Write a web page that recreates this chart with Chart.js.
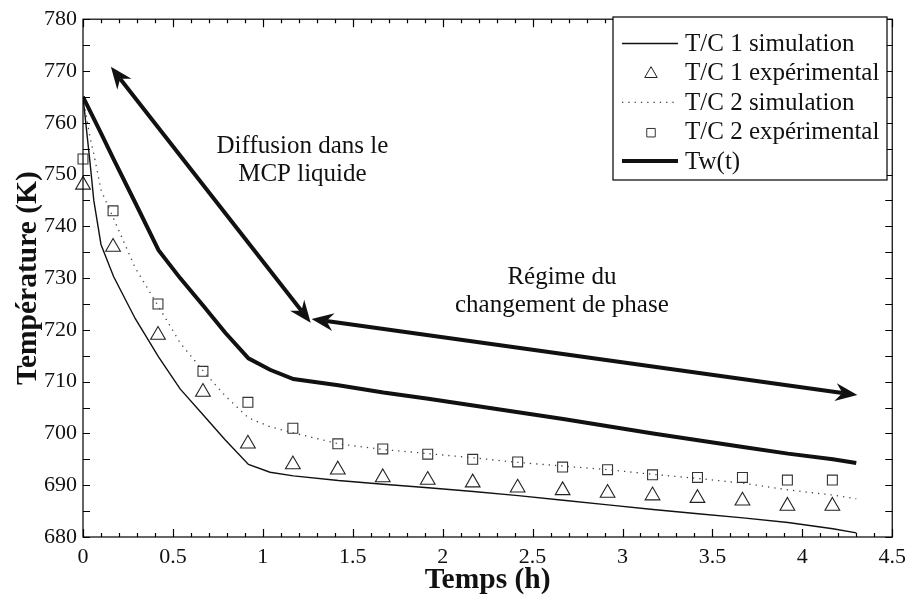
<!DOCTYPE html>
<html>
<head>
<meta charset="utf-8">
<title>Température</title>
<script src="https://cdn.jsdelivr.net/npm/chart.js@4.4.0/dist/chart.umd.min.js"></script>
<style>
  html, body { margin: 0; padding: 0; background: #fff; }
</style>
</head>
<body>
<canvas id="chart0" width="913" height="596"></canvas>
<script>
// simulated curves, time in hours
const tSim = [0, 0.04, 0.06, 0.1, 0.17, 0.29, 0.42, 0.54, 0.67, 0.79, 0.92, 1.04, 1.17, 1.42, 1.67, 1.92, 2.17, 2.42, 2.67, 2.92, 3.17, 3.42, 3.67, 3.92, 4.17, 4.3];
const tc1Sim = [765, 752, 745, 736.5, 730.3, 722.2, 714.8, 708.6, 703.5, 698.8, 694.0, 692.5, 691.8, 690.9, 690.2, 689.5, 688.8, 688.0, 687.1, 686.2, 685.3, 684.5, 683.7, 682.8, 681.6, 680.8];
const tc2Sim = [765, 757, 754, 747, 741.5, 732, 724.5, 717.5, 712, 707.3, 703.0, 701.3, 700.1, 698.0, 696.9, 696.1, 695.3, 694.4, 693.7, 693.0, 692.1, 691.3, 690.4, 689.1, 688.1, 687.4];
const twSim = [765, 762.2, 760.8, 758, 753, 744.6, 735.4, 730, 724.6, 719.5, 714.5, 712.3, 710.5, 709.3, 707.9, 706.7, 705.4, 704.1, 702.8, 701.4, 700.0, 698.7, 697.4, 696.1, 695.0, 694.3];

// thermocouple measurements
const tExp = [0, 0.167, 0.417, 0.667, 0.917, 1.167, 1.417, 1.667, 1.917, 2.167, 2.417, 2.667, 2.917, 3.167, 3.417, 3.667, 3.917, 4.167];
const tc1Exp = [748, 736, 719, 708, 698, 694, 693, 691.5, 691, 690.5, 689.5, 689, 688.5, 688, 687.5, 687, 686, 686];
const tc2Exp = [753, 743, 725, 712, 706, 701, 698, 697, 696, 695, 694.5, 693.5, 693, 692, 691.5, 691.5, 691, 691];

const seriesNames = ["T/C 1 simulation", "T/C 1 expérimental", "T/C 2 simulation", "T/C 2 expérimental", "Tw(t)"];
const xTicks = [0, 0.5, 1, 1.5, 2, 2.5, 3, 3.5, 4, 4.5];
const yTicks = [680, 690, 700, 710, 720, 730, 740, 750, 760, 770, 780];

// double arrows [t1, T1, t2, T2] and the notes beside them [t, T, text]
const arrows = [[0.155, 770.8, 1.266, 721.4], [1.271, 722.1, 4.306, 707.4]];
const notes = [
  [1.22, 754.1, "Diffusion dans le"],
  [1.22, 748.8, "MCP liquide"],
  [2.663, 728.9, "Régime du"],
  [2.663, 723.5, "changement de phase"]
];

const serif = '"Liberation Serif", "Times New Roman", serif';

function pts(xs, ys) {
  return xs.map((x, i) => ({x: x, y: ys[i]}));
}

// filled arrow head, tip at (x, y), pointing along angle a
function arrowHead(ctx, x, y, a) {
  const L = 22, W = 9, N = 15;
  const c = Math.cos(a), s = Math.sin(a);
  ctx.beginPath();
  ctx.moveTo(x, y);
  ctx.lineTo(x - L * c - W * s, y - L * s + W * c);
  ctx.lineTo(x - N * c, y - N * s);
  ctx.lineTo(x - L * c + W * s, y - L * s - W * c);
  ctx.closePath();
  ctx.fill();
}

const notesPlugin = {
  id: 'notes',
  afterDatasetsDraw(chart) {
    const {ctx, scales: {x, y}} = chart;
    ctx.save();
    ctx.strokeStyle = '#111';
    ctx.fillStyle = '#111';
    ctx.lineWidth = 4;
    arrows.forEach(r => {
      const x1 = x.getPixelForValue(r[0]), y1 = y.getPixelForValue(r[1]);
      const x2 = x.getPixelForValue(r[2]), y2 = y.getPixelForValue(r[3]);
      const a = Math.atan2(y2 - y1, x2 - x1);
      const c = Math.cos(a) * 15, s = Math.sin(a) * 15;
      ctx.beginPath();
      ctx.moveTo(x1 + c, y1 + s);
      ctx.lineTo(x2 - c, y2 - s);
      ctx.stroke();
      arrowHead(ctx, x2, y2, a);
      arrowHead(ctx, x1, y1, a + Math.PI);
    });
    ctx.font = '25px ' + serif;
    ctx.textAlign = 'center';
    ctx.textBaseline = 'alphabetic';
    notes.forEach(n => {
      ctx.fillText(n[2], x.getPixelForValue(n[0]), y.getPixelForValue(n[1]));
    });
    ctx.restore();
  }
};

// box round the plot, inward ticks on all four sides, axis titles
const framePlugin = {
  id: 'frame',
  afterDatasetsDraw(chart) {
    const {ctx, chartArea: a, scales: {x, y}} = chart;
    ctx.save();
    ctx.strokeStyle = '#000';
    ctx.lineWidth = 1.2;
    ctx.beginPath();
    for (let i = 0; i <= 45; i++) {
      const px = Math.round(x.getPixelForValue(i / 10)) + 0.5;
      const len = i % 5 === 0 ? 8 : 4;
      ctx.moveTo(px, a.bottom); ctx.lineTo(px, a.bottom - len);
      ctx.moveTo(px, a.top); ctx.lineTo(px, a.top + len);
    }
    for (let v = 680; v <= 780; v += 5) {
      const py = Math.round(y.getPixelForValue(v)) + 0.5;
      ctx.moveTo(a.left, py); ctx.lineTo(a.left + 7, py);
      ctx.moveTo(a.right, py); ctx.lineTo(a.right - 7, py);
    }
    ctx.stroke();
    ctx.strokeRect(a.left, a.top, a.right - a.left, a.bottom - a.top);

    ctx.fillStyle = '#111';
    ctx.font = 'bold 29.5px ' + serif;
    ctx.textAlign = 'center';
    ctx.textBaseline = 'alphabetic';
    ctx.fillText("Temps (h)", (a.left + a.right) / 2, 588);
    ctx.translate(36, (a.top + a.bottom) / 2);
    ctx.rotate(-Math.PI / 2);
    ctx.fillText("Température (K)", 0, 0);
    ctx.restore();
  }
};

const legendPlugin = {
  id: 'boxLegend',
  afterDraw(chart) {
    const ctx = chart.ctx;
    const left = 613, top = 17, right = 887, bottom = 180;
    ctx.save();
    ctx.fillStyle = '#fff';
    ctx.fillRect(left, top, right - left, bottom - top);
    ctx.strokeStyle = '#000';
    ctx.lineWidth = 1.2;
    ctx.strokeRect(left, top, right - left, bottom - top);
    ctx.font = '25px ' + serif;
    ctx.textBaseline = 'middle';
    ctx.textAlign = 'left';
    chart.data.datasets.forEach((ds, i) => {
      const ry = 43.5 + i * 29.4;
      ctx.strokeStyle = ds.borderColor;
      if (ds.showLine === false) {
        ctx.fillStyle = 'rgba(0,0,0,0)';
        ctx.lineWidth = 1;
        Chart.helpers.drawPoint(ctx, {pointStyle: ds.pointStyle, radius: ds.pointStyle === 'triangle' ? 7.2 : 6, borderWidth: 1}, 651, ry + 1);
      } else {
        ctx.lineWidth = ds.borderWidth;
        ctx.setLineDash(ds.borderDash || []);
        ctx.beginPath();
        ctx.moveTo(622, ry);
        ctx.lineTo(678, ry);
        ctx.stroke();
        ctx.setLineDash([]);
      }
      ctx.fillStyle = '#111';
      ctx.fillText(ds.label, 685, ry + 1);
    });
    ctx.restore();
  }
};

const datasets = [
  {label: seriesNames[0], data: pts(tSim, tc1Sim), borderColor: '#111', borderWidth: 1.4, pointRadius: 0},
  {label: seriesNames[1], data: pts(tExp, tc1Exp), showLine: false, pointStyle: 'triangle', pointRadius: 8.5,
   borderColor: '#222', backgroundColor: 'rgba(0,0,0,0)', pointBorderWidth: 1.1, clip: false},
  {label: seriesNames[2], data: pts(tSim, tc2Sim), borderColor: '#444', borderWidth: 1.3, borderDash: [1.3, 5], pointRadius: 0},
  {label: seriesNames[3], data: pts(tExp, tc2Exp), showLine: false, pointStyle: 'rect', pointRadius: 7,
   borderColor: '#333', backgroundColor: 'rgba(0,0,0,0)', pointBorderWidth: 1.1, clip: false},
  {label: seriesNames[4], data: pts(tSim, twSim), borderColor: '#111', borderWidth: 4, pointRadius: 0}
];

new Chart(document.getElementById('chart0').getContext('2d'), {
  type: 'line',
  data: {datasets: datasets},
  options: {
    responsive: false,
    animation: false,
    layout: {padding: {left: 0, top: 15, right: 16, bottom: 0}},
    elements: {line: {tension: 0}},
    plugins: {legend: {display: false}, tooltip: {enabled: false}},
    scales: {
      x: {
        type: 'linear', min: 0, max: 4.5,
        afterFit: s => { s.height = 59; },
        afterBuildTicks: s => { s.ticks = xTicks.map(v => ({value: v})); },
        grid: {display: false, drawTicks: false},
        border: {display: false},
        ticks: {color: '#111', padding: 7, font: {family: serif, size: 22}, maxRotation: 0,
                callback: v => String(+v.toFixed(2))}
      },
      y: {
        type: 'linear', min: 680, max: 780,
        afterFit: s => { s.width = 83; },
        afterBuildTicks: s => { s.ticks = yTicks.map(v => ({value: v})); },
        grid: {display: false, drawTicks: false},
        border: {display: false},
        ticks: {color: '#111', padding: 6, font: {family: serif, size: 22}}
      }
    }
  },
  plugins: [notesPlugin, framePlugin, legendPlugin]
});
</script>
</body>
</html>
